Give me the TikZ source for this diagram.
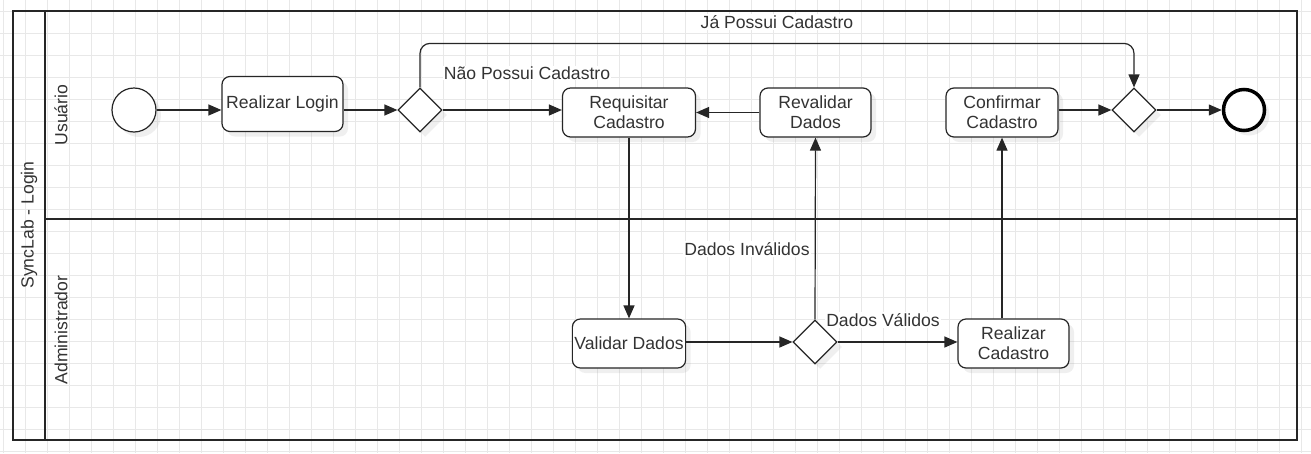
\documentclass[tikz,border=0pt]{standalone}
\usepackage{fontspec}
\setmainfont{Liberation Sans}
\usetikzlibrary{arrows.meta, shapes.geometric, shadows}

\definecolor{gridgray}{HTML}{E8E8E8}
\definecolor{inkgray}{HTML}{333333}

\tikzset{
    gridline/.style={draw=gridgray, line width=0.9pt},
    poolline/.style={draw=black!85, line width=1.3pt},
    nodeshadow/.style={drop shadow={opacity=0.12, shadow xshift=5pt, shadow yshift=-5pt}},
    task/.style={draw=black!85, line width=1.2pt, rounded corners=8pt, fill=white,
        align=center, text=inkgray, inner sep=2pt, nodeshadow},
    gateway/.style={draw=black!85, line width=1.2pt, diamond, aspect=1, fill=white,
        inner sep=0pt, minimum width=44pt, minimum height=44pt, nodeshadow},
    startevent/.style={draw=black!85, line width=1.2pt, circle, fill=white,
        inner sep=0pt, minimum size=44pt, nodeshadow},
    endevent/.style={draw=black, line width=3.5pt, circle, fill=white,
        inner sep=0pt, minimum size=41pt, nodeshadow},
    flow/.style={draw=black!85, line width=1.2pt, -{Triangle[length=13pt, width=11pt]}},
    flowlabel/.style={fill=white, text=inkgray, inner sep=1pt},
    lanelabel/.style={rotate=90, text=inkgray}
}

\begin{document}
\begin{tikzpicture}[x=1pt, y=-1pt, font=\fontsize{17.6}{20}\selectfont]
    \useasboundingbox (0,0) rectangle (1311,453);
    \fill[white] (0,0) rectangle (1311,453);

    % Background grid
    \foreach \gx in {3,25,...,1311}
        \draw[gridline] (\gx,0) -- (\gx,453);
    \foreach \gy in {11,33,...,453}
        \draw[gridline] (0,\gy) -- (1311,\gy);

    % Pool and lanes
    \draw[poolline] (13,11) rectangle (1297,440);
    \draw[poolline] (45,11) -- (45,440);
    \draw[poolline] (45,219) -- (1297,219);
    \node[lanelabel] (pool) at (29,225) {SyncLab - Login};
    \node[lanelabel] (usr) at (61,115) {Usuário};
    \node[lanelabel] (adm) at (61,330) {Administrador};

    % Usuario lane
    \node[startevent] (start) at (134,110) {};
    \node[task, minimum width=121pt, minimum height=55pt] (login) at (282.5,104) {Realizar Login};
    \node[gateway] (gwA) at (420,110) {};
    \node[task, minimum width=133pt, minimum height=49pt] (req) at (629,112.5) {Requisitar\\Cadastro};
    \node[task, minimum width=111pt, minimum height=49pt] (reval) at (815.5,112.5) {Revalidar\\Dados};
    \node[task, minimum width=112pt, minimum height=49pt] (conf) at (1002,112.5) {Confirmar\\Cadastro};
    \node[gateway] (gwB) at (1134,110) {};
    \node[endevent] (finish) at (1244,110) {};

    % Administrador lane
    \node[task, minimum width=113pt, minimum height=49pt] (val) at (629,343.5) {Validar Dados};
    \node[gateway] (gwC) at (815,342) {};
    \node[task, minimum width=111pt, minimum height=49pt] (rcad) at (1013.5,343.5) {Realizar\\Cadastro};

    % Sequence flows
    \draw[flow] (start) -- (login.west |- start);
    \draw[flow] (login.east |- gwA) -- (gwA);
    \draw[flow] (gwA) -- (req.west |- gwA);
    \draw[flow, rounded corners=10pt] (gwA.north) -- ++(0,-44) -| (gwB.north);
    \draw[flow] (reval) -- (req);
    \draw[flow] (req) -- (val);
    \draw[flow] (val.east |- gwC) -- (gwC);
    \draw[flow] (gwC) -- (rcad.west |- gwC);
    \draw[flow] (gwC.north) -- (reval.south);
    \draw[flow] (rcad.north -| conf.south) -- (conf.south);
    \draw[flow] (conf.east |- gwB) -- (gwB);
    \draw[flow] (gwB) -- (finish);

    % Flow labels
    \node[flowlabel] (jaLbl) at (777,22) {Já Possui Cadastro};
    \node[flowlabel] (naoLbl) at (527,73) {Não Possui Cadastro};
    \node[flowlabel] (invLbl) at (747,249) {Dados Inválidos};
    \node[flowlabel] (valLbl) at (883,320) {Dados Válidos};

\end{tikzpicture}
\end{document}
